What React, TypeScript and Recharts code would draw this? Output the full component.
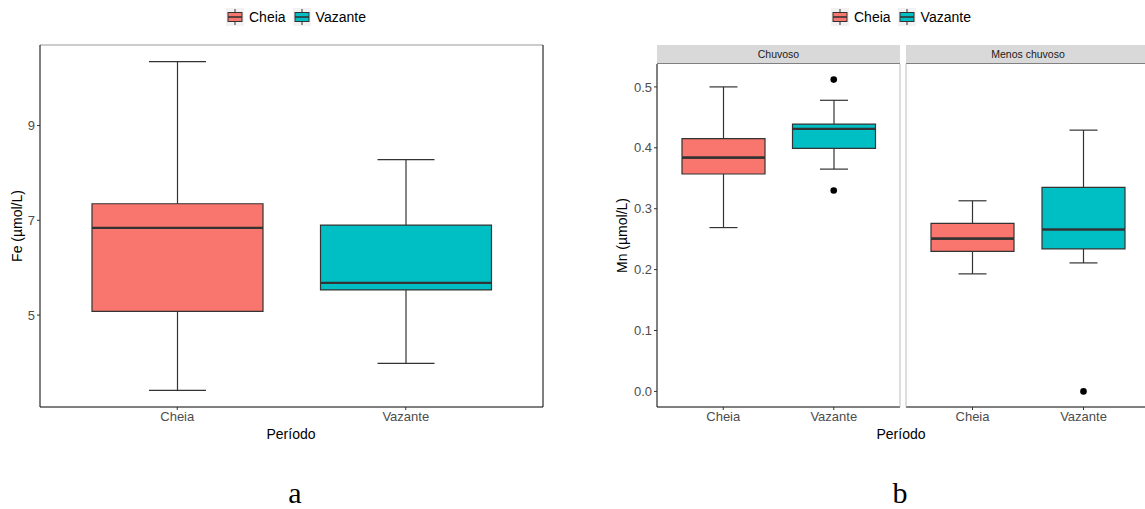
import { Bar, ComposedChart, Line, XAxis, YAxis } from "recharts";

const FONT = '"Liberation Sans", Arial, sans-serif';
const STROKE = "#333333";

const periods = ["Cheia", "Vazante"];
const periodColors = ["#F8766D", "#00BFC4"];

// (a) Fe
const feMin = [3.41, 3.98];
const feQ1 = [5.08, 5.53];
const feMedian = [6.84, 5.68];
const feQ3 = [7.35, 6.9];
const feMax = [10.35, 8.28];
const feOutliers: number[][] = [[], []];
const feTicks = [5, 7, 9];

// (b) Mn, facet "Chuvoso"
const mnChuvosoMin = [0.269, 0.365];
const mnChuvosoQ1 = [0.357, 0.399];
const mnChuvosoMedian = [0.384, 0.431];
const mnChuvosoQ3 = [0.415, 0.439];
const mnChuvosoMax = [0.5, 0.478];
const mnChuvosoOutliers: number[][] = [[], [0.512, 0.33]];

// (b) Mn, facet "Menos chuvoso"
const mnMenosMin = [0.193, 0.211];
const mnMenosQ1 = [0.23, 0.234];
const mnMenosMedian = [0.251, 0.266];
const mnMenosQ3 = [0.276, 0.335];
const mnMenosMax = [0.313, 0.429];
const mnMenosOutliers: number[][] = [[], [0.0]];
const mnTicks = [0, 0.1, 0.2, 0.3, 0.4, 0.5];

function buildRows(
  min: number[],
  q1: number[],
  median: number[],
  q3: number[],
  max: number[],
  outliers: number[][],
) {
  return periods.map((period, i) => ({
    period,
    base: min[i],
    lowerWhisker: q1[i] - min[i],
    lowerBox: median[i] - q1[i],
    upperBox: q3[i] - median[i],
    upperWhisker: max[i] - q3[i],
    out0: outliers[i][0] ?? null,
    out1: outliers[i][1] ?? null,
  }));
}

const feRows = buildRows(feMin, feQ1, feMedian, feQ3, feMax, feOutliers);
const chuvosoRows = buildRows(mnChuvosoMin, mnChuvosoQ1, mnChuvosoMedian, mnChuvosoQ3, mnChuvosoMax, mnChuvosoOutliers);
const menosRows = buildRows(mnMenosMin, mnMenosQ1, mnMenosMedian, mnMenosQ3, mnMenosMax, mnMenosOutliers);

function span(p: any) {
  const top = Math.min(p.y, p.y + p.height);
  const bottom = Math.max(p.y, p.y + p.height);
  return { top, bottom, left: p.x, right: p.x + p.width, cx: p.x + p.width / 2 };
}

function makeShapes(capWidth: number) {
  return {
    none: () => <g />,
    lowerWhisker: (p: any) => {
      const s = span(p);
      return (
        <g>
          <line x1={s.cx} x2={s.cx} y1={s.top} y2={s.bottom} stroke={STROKE} strokeWidth={1.2} />
          <line x1={s.cx - capWidth / 2} x2={s.cx + capWidth / 2} y1={s.bottom} y2={s.bottom} stroke={STROKE} strokeWidth={1.2} />
        </g>
      );
    },
    upperWhisker: (p: any) => {
      const s = span(p);
      return (
        <g>
          <line x1={s.cx} x2={s.cx} y1={s.top} y2={s.bottom} stroke={STROKE} strokeWidth={1.2} />
          <line x1={s.cx - capWidth / 2} x2={s.cx + capWidth / 2} y1={s.top} y2={s.top} stroke={STROKE} strokeWidth={1.2} />
        </g>
      );
    },
    lowerBox: (p: any) => {
      const s = span(p);
      const fill = periodColors[p.index] ?? "#999";
      return (
        <g>
          <rect x={s.left} y={s.top} width={s.right - s.left} height={s.bottom - s.top} fill={fill} />
          <path
            d={`M${s.left},${s.top} L${s.left},${s.bottom} L${s.right},${s.bottom} L${s.right},${s.top}`}
            fill="none"
            stroke={STROKE}
            strokeWidth={1.2}
          />
          <line x1={s.left} x2={s.right} y1={s.top} y2={s.top} stroke={STROKE} strokeWidth={2.4} />
        </g>
      );
    },
    upperBox: (p: any) => {
      const s = span(p);
      const fill = periodColors[p.index] ?? "#999";
      return (
        <g>
          <rect x={s.left} y={s.top} width={s.right - s.left} height={s.bottom - s.top} fill={fill} />
          <path
            d={`M${s.left},${s.bottom} L${s.left},${s.top} L${s.right},${s.top} L${s.right},${s.bottom}`}
            fill="none"
            stroke={STROKE}
            strokeWidth={1.2}
          />
          <line x1={s.left} x2={s.right} y1={s.bottom} y2={s.bottom} stroke={STROKE} strokeWidth={2.4} />
        </g>
      );
    },
  };
}

function renderOutlier(props: any) {
  const { cx, cy, index, dataKey } = props;
  const key = `${dataKey}-${index}`;
  if (typeof cy !== "number" || Number.isNaN(cy) || props.value == null) return <g key={key} />;
  return <circle key={key} cx={cx} cy={cy} r={3.3} fill="#000" />;
}

const tickStyle = { fill: "#4D4D4D", fontSize: 13, fontFamily: FONT };

function boxSeries(capWidth: number) {
  const shapes = makeShapes(capWidth);
  return [
    <Bar key="base" stackId="box" dataKey="base" shape={shapes.none} isAnimationActive={false} />,
    <Bar key="lw" stackId="box" dataKey="lowerWhisker" shape={shapes.lowerWhisker} isAnimationActive={false} />,
    <Bar key="lb" stackId="box" dataKey="lowerBox" shape={shapes.lowerBox} isAnimationActive={false} />,
    <Bar key="ub" stackId="box" dataKey="upperBox" shape={shapes.upperBox} isAnimationActive={false} />,
    <Bar key="uw" stackId="box" dataKey="upperWhisker" shape={shapes.upperWhisker} isAnimationActive={false} />,
    <Line key="o0" dataKey="out0" stroke="none" dot={renderOutlier} activeDot={false} isAnimationActive={false} />,
    <Line key="o1" dataKey="out1" stroke="none" dot={renderOutlier} activeDot={false} isAnimationActive={false} />,
  ];
}

function LegendKey({ color }: { color: string }) {
  return (
    <svg width={18} height={18} style={{ display: "block" }}>
      <rect x={0} y={0} width={18} height={18} fill="#F2F2F2" />
      <line x1={9} x2={9} y1={1} y2={17} stroke={STROKE} strokeWidth={1} />
      <rect x={2} y={4.5} width={14} height={9} fill={color} stroke={STROKE} strokeWidth={1} />
      <line x1={2} x2={16} y1={9} y2={9} stroke={STROKE} strokeWidth={1.6} />
    </svg>
  );
}

function PeriodLegend({ left }: { left: number }) {
  return (
    <div
      style={{
        position: "absolute",
        left,
        top: 8,
        height: 18,
        display: "flex",
        alignItems: "center",
        fontFamily: FONT,
        fontSize: 14,
        color: "#000",
      }}
    >
      {periods.map((p, i) => (
        <div key={p} style={{ display: "flex", alignItems: "center", marginRight: 7 }}>
          <LegendKey color={periodColors[i]} />
          <span style={{ marginLeft: 5 }}>{p}</span>
        </div>
      ))}
    </div>
  );
}

function AxisTitle({ center, text }: { center: number; text: string }) {
  return (
    <div
      style={{
        position: "absolute",
        left: center - 100,
        width: 200,
        top: 426,
        lineHeight: "16px",
        textAlign: "center",
        fontFamily: FONT,
        fontSize: 14,
        color: "#000",
      }}
    >
      {text}
    </div>
  );
}

function Strip({ left, width, text }: { left: number; width: number; text: string }) {
  return (
    <div
      style={{
        position: "absolute",
        left,
        width,
        top: 45,
        height: 18,
        background: "#D9D9D9",
        borderBottom: "1px solid #808080",
        fontFamily: FONT,
        fontSize: 10.5,
        color: "#1A1A1A",
        lineHeight: "18px",
        textAlign: "center",
      }}
    >
      {text}
    </div>
  );
}

function PanelLetter({ center, text }: { center: number; text: string }) {
  return (
    <div
      style={{
        position: "absolute",
        left: center - 30,
        width: 60,
        top: 478,
        lineHeight: "30px",
        textAlign: "center",
        fontFamily: '"Liberation Serif", "Times New Roman", serif',
        fontSize: 30,
        color: "#000",
      }}
    >
      {text}
    </div>
  );
}

const feDomain: [number, number] = [3.06, 10.7];
const mnDomain: [number, number] = [-0.0256, 0.5376];

export default function App() {
  return (
    <div
      style={{
        position: "fixed",
        left: 0,
        top: 0,
        width: 1145,
        height: 509,
        overflow: "hidden",
        background: "#fff",
      }}
    >
      <PeriodLegend left={226} />
      <PeriodLegend left={831} />

      {/* a: Fe */}
      <div style={{ position: "absolute", left: 0, top: 0 }}>
        <ComposedChart width={560} height={460} data={feRows} margin={{ top: 44, right: 16, bottom: 23, left: 10 }} barSize={171}>
          <XAxis
            dataKey="period"
            type="category"
            padding={{ left: 23, right: 23 }}
            height={30}
            tickSize={3}
            tickMargin={2}
            tick={tickStyle}
            tickLine={{ stroke: STROKE }}
            axisLine={{ stroke: "#000" }}
          />
          <XAxis xAxisId="top" orientation="top" dataKey="period" height={1} tick={false} tickLine={false} axisLine={{ stroke: "#999" }} />
          <YAxis
            domain={feDomain}
            ticks={feTicks}
            allowDataOverflow
            width={30}
            tickSize={3}
            tickMargin={2}
            tick={tickStyle}
            tickLine={{ stroke: STROKE }}
            axisLine={{ stroke: "#000" }}
            label={{
              value: "Fe (µmol/L)",
              angle: -90,
              position: "insideLeft",
              offset: 7,
              style: { textAnchor: "middle", fontFamily: FONT, fontSize: 14, fill: "#000" },
            }}
          />
          <YAxis yAxisId="right" orientation="right" domain={feDomain} width={1} tick={false} tickLine={false} axisLine={{ stroke: "#000" }} />
          {boxSeries(57)}
        </ComposedChart>
      </div>
      <AxisTitle center={291} text="Período" />

      {/* b: Mn, Chuvoso */}
      <Strip left={657} width={243} text="Chuvoso" />
      <div style={{ position: "absolute", left: 595, top: 0 }}>
        <ComposedChart width={306} height={460} data={chuvosoRows} margin={{ top: 64, right: 0, bottom: 23, left: 0 }} barSize={83}>
          <XAxis
            dataKey="period"
            type="category"
            padding={{ left: 11, right: 11 }}
            height={30}
            tickSize={3}
            tickMargin={2}
            tick={tickStyle}
            tickLine={{ stroke: STROKE }}
            axisLine={{ stroke: "#000" }}
          />
          <YAxis
            domain={mnDomain}
            ticks={mnTicks}
            allowDataOverflow
            width={62}
            tickSize={3}
            tickMargin={2}
            tick={tickStyle}
            tickFormatter={(v: number) => v.toFixed(1)}
            tickLine={{ stroke: STROKE }}
            axisLine={{ stroke: "#000" }}
            label={{
              value: "Mn (µmol/L)",
              angle: -90,
              position: "insideLeft",
              offset: 27,
              style: { textAnchor: "middle", fontFamily: FONT, fontSize: 14, fill: "#000" },
            }}
          />
          <YAxis yAxisId="right" orientation="right" domain={mnDomain} width={1} tick={false} tickLine={false} axisLine={{ stroke: "#BDBDBD" }} />
          {boxSeries(28)}
        </ComposedChart>
      </div>

      {/* b: Mn, Menos chuvoso */}
      <Strip left={906} width={244} text="Menos chuvoso" />
      <div style={{ position: "absolute", left: 905, top: 0 }}>
        <ComposedChart width={245} height={460} data={menosRows} margin={{ top: 64, right: 0, bottom: 23, left: 0 }} barSize={83}>
          <XAxis
            dataKey="period"
            type="category"
            padding={{ left: 11, right: 11 }}
            height={30}
            tickSize={3}
            tickMargin={2}
            tick={tickStyle}
            tickLine={{ stroke: STROKE }}
            axisLine={{ stroke: "#000" }}
          />
          <YAxis domain={mnDomain} ticks={mnTicks} allowDataOverflow width={1} tick={false} tickLine={false} axisLine={{ stroke: "#BDBDBD" }} />
          {boxSeries(28)}
        </ComposedChart>
      </div>
      <AxisTitle center={901} text="Período" />

      <PanelLetter center={295} text="a" />
      <PanelLetter center={900} text="b" />
    </div>
  );
}
